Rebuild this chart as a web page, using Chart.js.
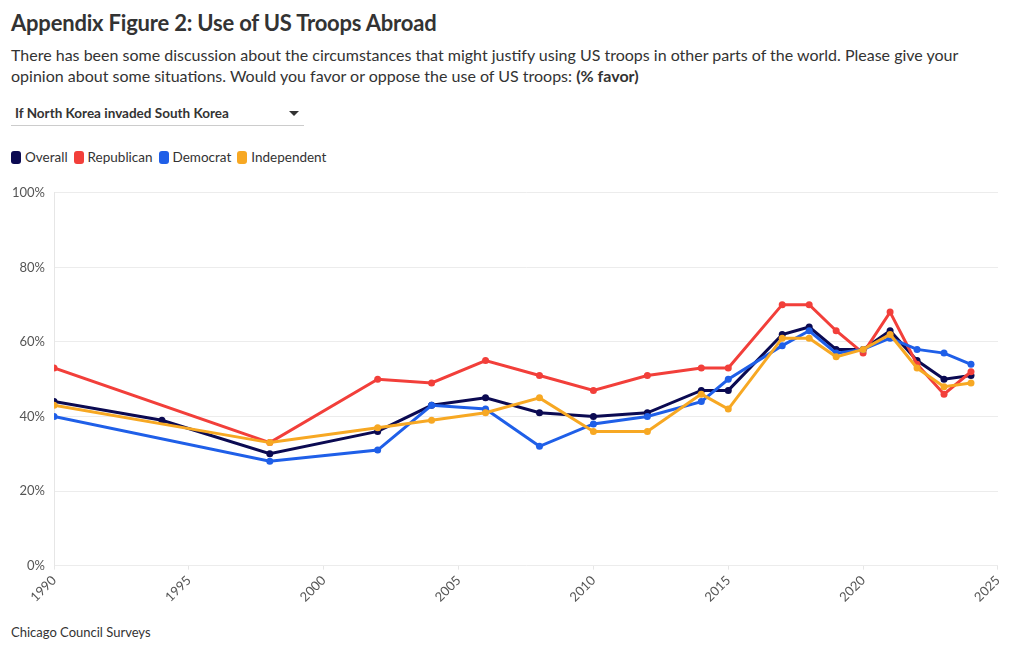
<!DOCTYPE html>
<html>
<head>
<meta charset="utf-8">
<script src="https://cdn.jsdelivr.net/npm/chart.js@4"></script>
<style>
  body { margin: 0; background: #fff; font-family: Lato, "Noto Sans", sans-serif; color: #333; }
  #wrap { position: relative; width: 1020px; height: 650px; }
  h1 { position: absolute; left: 11px; top: 9px; margin: 0; font-size: 22px; font-weight: 700; color: #333; letter-spacing: -0.2px; }
  .sub { position: absolute; left: 11px; top: 44px; margin: 0; font-size: 16px; line-height: 21px; color: #333; }
  .drop { position: absolute; left: 11px; top: 104px; width: 293px; height: 21px; border-bottom: 1px solid #ccc; font-size: 13.5px; font-weight: 700; color: #333; }
  .drop span { position: absolute; left: 4px; top: 1px; }
  .drop i { position: absolute; right: 5px; top: 7px; width: 0; height: 0; border-left: 5px solid transparent; border-right: 5px solid transparent; border-top: 5px solid #333; }
  .legend { position: absolute; left: 11px; top: 149px; font-size: 13.5px; color: #333; display: flex; }
  .legend div { display: flex; align-items: center; margin-right: 6px; }
  .legend b { display: inline-block; width: 10px; height: 13px; border-radius: 3px; margin-right: 4px; }
  .foot { position: absolute; left: 11px; top: 624px; font-size: 13px; color: #333; }
  #box { position: absolute; left: 0; top: 176px; width: 1012px; height: 432px; }
</style>
</head>
<body>
<div id="wrap">
  <h1>Appendix Figure 2: Use of US Troops Abroad</h1>
  <p class="sub">There has been some discussion about the circumstances that might justify using US troops in other parts of the world. Please give your<br>opinion about some situations. Would you favor or oppose the use of US troops: <b>(% favor)</b></p>
  <div class="drop"><span>If North Korea invaded South Korea</span><i></i></div>
  <div class="legend" id="legend"></div>
  <div id="box"><canvas id="chart"></canvas></div>
  <div class="foot">Chicago Council Surveys</div>
</div>
<script>
// 調査年
const years = [1990, 1994, 1998, 2002, 2004, 2006, 2008, 2010, 2012, 2014, 2015, 2017, 2018, 2019, 2020, 2021, 2022, 2023, 2024];

// 各グループの賛成率 (%)
const overall     = [44, 39, 30, 36, 43, 45, 41, 40, 41, 47, 47, 62, 64, 58, 58, 63, 55, 50, 51];
const republican  = [53, null, 33, 50, 49, 55, 51, 47, 51, 53, 53, 70, 70, 63, 57, 68, 54, 46, 52];
const democrat    = [40, null, 28, 31, 43, 42, 32, 38, 40, 44, 50, 59, 63, 57, 58, 61, 58, 57, 54];
const independent = [43, null, 33, 37, 39, 41, 45, 36, 36, 46, 42, 61, 61, 56, 58, 62, 53, 48, 49];

const seriesNames = ["Overall", "Republican", "Democrat", "Independent"];
const seriesColors = ["#0b0a52", "#f23f3a", "#1f5fe8", "#f7a823"];
const seriesValues = [overall, republican, democrat, independent];
const drawOrder = [4, 3, 2, 1];

const yTicks = [0, 20, 40, 60, 80, 100];

// 凡例を作成
const legend = document.getElementById("legend");
seriesNames.forEach((name, i) => {
  const item = document.createElement("div");
  item.innerHTML = `<b style="background:${seriesColors[i]}"></b>${name}`;
  legend.appendChild(item);
});

const datasets = seriesNames.map((name, i) => ({
  label: name,
  data: years.map((y, j) => ({ x: y, y: seriesValues[i][j] })),
  borderColor: seriesColors[i],
  backgroundColor: seriesColors[i],
  borderWidth: 3,
  pointRadius: 3.5,
  pointBorderWidth: 0,
  tension: 0,
  spanGaps: true,
  order: drawOrder[i],
}));

const ctx = document.getElementById("chart").getContext("2d");
new Chart(ctx, {
  type: "line",
  data: { datasets: datasets },
  options: {
    responsive: true,
    maintainAspectRatio: false,
    animation: false,
    layout: { padding: { top: 10, right: 8, left: 3, bottom: 0 } },
    plugins: {
      legend: { display: false },
      tooltip: { enabled: false },
    },
    scales: {
      x: {
        type: "linear",
        min: 1990,
        max: 2025,
        ticks: {
          stepSize: 5,
          minRotation: 45,
          maxRotation: 45,
          color: "#555",
          font: { family: "Lato", size: 13 },
          callback: (v) => String(v),
        },
        grid: { drawOnChartArea: false, color: "#e6e6e6", tickLength: 4 },
        border: { display: false },
      },
      y: {
        min: 0,
        max: 100,
        afterBuildTicks: (axis) => {
          axis.ticks = yTicks.map((v) => ({ value: v }));
        },
        ticks: {
          color: "#555",
          padding: 9,
          font: { family: "Lato", size: 13 },
          callback: (v) => v + "%",
        },
        grid: { color: "#ececec", drawTicks: false },
        border: { display: true, color: "#e6e6e6" },
      },
    },
  },
});
</script>
</body>
</html>
